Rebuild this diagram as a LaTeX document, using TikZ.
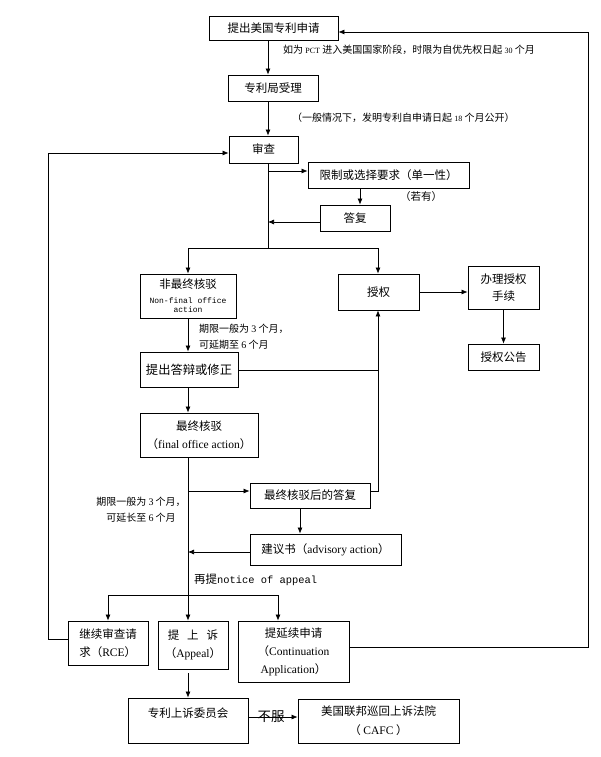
\documentclass[tikz,border=0pt]{standalone}
\usepackage{fontspec}
\setmainfont{Liberation Serif}
\setmonofont{Liberation Mono}
\newfontfamily\cjk{Noto Sans CJK SC}
\usetikzlibrary{arrows.meta}
\newcommand\fs[2]{\fontsize{#1}{#2}\selectfont}
\begin{document}
\begin{tikzpicture}[x=1pt,y=-1pt,
  box/.style={draw, line width=0.8pt, inner sep=0pt, align=center, font=\cjk\fs{11.5}{14}},
  arr/.style={-{Latex[length=6pt,width=5pt]}, line width=0.7pt},
  ln/.style={line width=0.7pt},
  lab/.style={inner sep=0pt, font=\cjk\fs{10}{16}}]
\useasboundingbox (0,0) rectangle (600,757);

% boxes
\node[box, minimum width=129pt, minimum height=24pt] (b1) at (273.5,28) {提出美国专利申请};
\node[box, minimum width=90pt, minimum height=26pt] (b2) at (273,88) {专利局受理};
\node[box, minimum width=69pt, minimum height=27pt] (b3) at (263.5,149.5) {审查};
\node[box, minimum width=161pt, minimum height=26pt] (b4) at (388.5,175) {限制或选择要求（单一性）};
\node[box, minimum width=70pt, minimum height=26pt] (b5) at (355,218) {答复};
\node[box, minimum width=96pt, minimum height=44pt] (b6) at (188,296)
  {非最终核驳\\[1pt]{\ttfamily\fs{8}{9}Non-final office}\\[-5pt]{\ttfamily\fs{8}{9}action}};
\node[box, minimum width=81pt, minimum height=36pt] (b7) at (378.5,292) {授权};
\node[box, minimum width=71pt, minimum height=43pt] (b8) at (503.5,287.5) {办理授权\\[3pt]手续};
\node[box, minimum width=71pt, minimum height=26pt] (b9) at (503.5,357) {授权公告};
\node[box, minimum width=98pt, minimum height=35pt, font=\cjk\fs{12.3}{15}] (b10) at (189,369.5) {提出答辩或修正};
\node[box, minimum width=118pt, minimum height=44pt] (b11) at (199,435)
  {最终核驳\\[4pt]（{\rmfamily final office action}）};
\node[box, minimum width=120pt, minimum height=25pt] (b12) at (310,495.5) {最终核驳后的答复};
\node[box, minimum width=151pt, minimum height=31pt] (b13) at (325.5,549.5) {建议书（{\rmfamily advisory action}）};
\node[box, minimum width=80pt, minimum height=44pt, align=left] (b14) at (108,643) {继续审查请\\[4pt]求（{\rmfamily RCE}）};
\node[box, minimum width=70pt, minimum height=48pt] (b15) at (193,645) {提\hspace{8pt}上\hspace{8pt}诉\\[4pt]（{\rmfamily Appeal}）};
\node[box, minimum width=111pt, minimum height=61pt] (b16) at (293.5,651.5)
  {提延续申请\\[4pt]（{\rmfamily Continuation}\\[4pt]{\rmfamily Application}）};
\node[box, minimum width=120pt, minimum height=45pt] (b17) at (188,720.5) {专利上诉委员会\\[1pt]\mbox{}};
\node[box, minimum width=161pt, minimum height=44pt] (b18) at (378.5,721) {美国联邦巡回上诉法院\\[5pt]（ {\rmfamily CAFC} ）};

% labels
\node[lab, anchor=west] (t1) at (283,50) {如为 {\rmfamily\fs{8}{10}PCT} 进入美国国家阶段，时限为自优先权日起 {\rmfamily\fs{8}{10}30} 个月};
\node[lab, anchor=west] (t2) at (292,118) {（一般情况下，发明专利自申请日起 {\rmfamily\fs{8}{10}18} 个月公开）};
\node[lab, font=\cjk\fs{10.5}{12}] (t3) at (421,197) {（若有）};
\node[lab, anchor=west, align=left] (t4) at (199,337) {期限一般为 {\rmfamily 3} 个月，\\可延期至 {\rmfamily 6} 个月};
\node[lab, align=center] (t5) at (141,510) {期限一般为 {\rmfamily 3} 个月，\\可延长至 {\rmfamily 6} 个月};
\node[anchor=west, inner sep=0pt, font=\cjk\fs{11.5}{14}] (t6) at (194,580) {再提{\ttfamily\fs{10.4}{14}notice of appeal}};

% coordinates
\coordinate (sp) at (268,0);
\coordinate (sa) at (268,248);
\coordinate (r1) at (268,171);
\coordinate (c360) at (360,0);
\coordinate (r2) at (268,222);
\coordinate (sl) at (188,248);
\coordinate (sr) at (378,248);
\coordinate (j1) at (378,370);
\coordinate (r3) at (188,491);
\coordinate (j2) at (378,491);
\coordinate (c300) at (300,0);
\coordinate (r4) at (188,552);
\coordinate (s2l) at (108,595);
\coordinate (s2r) at (278,595);
\coordinate (fl) at (48,639);
\coordinate (fl2) at (48,153);
\coordinate (fr) at (588,647);
\coordinate (fr2) at (588,32);
\coordinate (r5) at (0,717);

% connectors
\draw[arr] (b1.south -| sp) -- (b2.north -| sp);
\draw[arr] (b2.south -| sp) -- (b3.north -| sp);
\draw[ln] (b3.south -| sp) -- (sa);
\draw[arr] (r1) -- (b4.west |- r1);
\draw[arr] (b4.south -| c360) -- (b5.north -| c360);
\draw[arr] (b5.west |- r2) -- (r2);
\draw[ln] (sl) -- (sr);
\draw[arr] (sl) -- (b6.north -| sl);
\draw[arr] (sr) -- (b7.north -| sr);
\draw[arr] (b7.east) -- (b8.west |- b7.east);
\draw[arr] (b8.south) -- (b9.north);
\draw[arr] (b6.south -| sl) -- (b10.north -| sl);
\draw[ln] (b10.east |- j1) -- (j1);
\draw[arr] (b10.south -| sl) -- (b11.north -| sl);
\draw[arr] (b11.south -| sl) -- (b15.north -| sl);
\draw[arr] (r3) -- (b12.west |- r3);
\draw[arr] (b12.east |- j2) -- (j2) -- (b7.south -| j2);
\draw[arr] (b12.south -| c300) -- (b13.north -| c300);
\draw[arr] (b13.west |- r4) -- (r4);
\draw[ln] (s2l) -- (s2r);
\draw[arr] (s2l) -- (b14.north -| s2l);
\draw[arr] (s2r) -- (b16.north -| s2r);
\draw[arr] (b14.west |- fl) -- (fl) -- (fl2) -- (b3.west |- fl2);
\draw[arr] (b16.east |- fr) -- (fr) -- (fr2) -- (b1.east |- fr2);
\draw[arr, shorten <=4pt] (b15.south -| sl) -- (b17.north -| sl);
\draw[arr] (b17.east |- r5) -- (b18.west |- r5);
\node[inner sep=0pt, font=\cjk\fs{13.5}{15}] (bf) at (271,717) {不服};
\end{tikzpicture}
\end{document}
